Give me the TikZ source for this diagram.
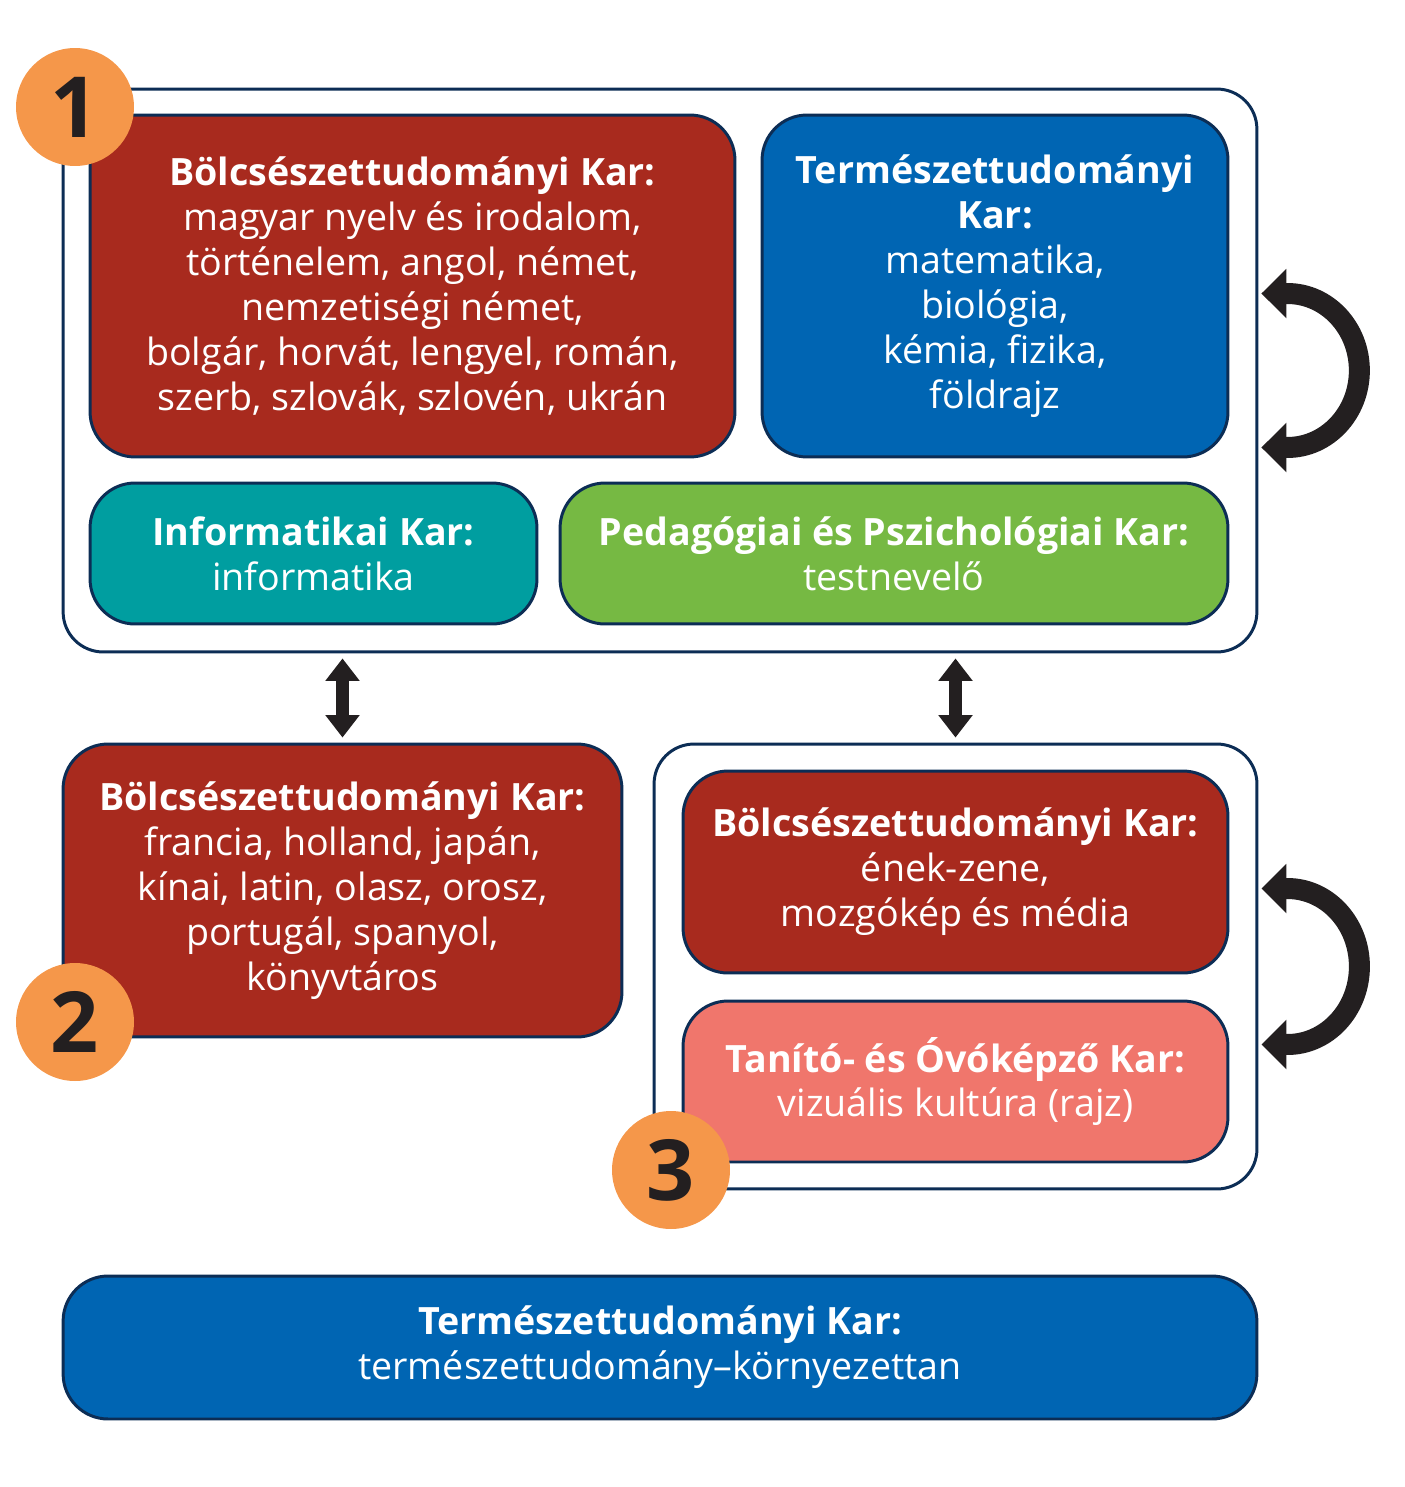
\documentclass[tikz,border=0pt]{standalone}
\usepackage{fontspec}
\setmainfont{Open Sans}
\usetikzlibrary{arrows.meta}
\definecolor{karred}{RGB}{168,42,30}
\definecolor{karblue}{RGB}{0,101,179}
\definecolor{karteal}{RGB}{0,158,160}
\definecolor{kargreen}{RGB}{118,185,67}
\definecolor{karsalmon}{RGB}{240,118,108}
\definecolor{numorange}{RGB}{245,151,74}
\definecolor{navy}{RGB}{12,45,85}
\definecolor{arrowblack}{RGB}{35,31,32}
\begin{document}
\begin{tikzpicture}[x=0.02cm, y=-0.02cm,
  kar/.style={draw=navy, line width=1.7pt, rounded corners=0.9cm, text=white, align=center, inner sep=0pt, font=\fontsize{21.4}{25.6}\selectfont},
  frame/.style={draw=navy, line width=1.7pt, rounded corners=0.8cm, inner sep=0pt},
  num/.style={circle, fill=numorange, minimum size=2.36cm, inner sep=0pt, text=arrowblack, font=\fontsize{48}{48}\selectfont\bfseries},
  updown/.style={arrowblack, line width=0.27cm, shorten <=0.1cm, shorten >=0.1cm, {Triangle[width=0.66cm,length=0.45cm]}-{Triangle[width=0.66cm,length=0.45cm]}},
  loopback/.style={arrowblack, line width=0.42cm, {Triangle[width=0.96cm,length=0.5cm]}-{Triangle[width=0.96cm,length=0.5cm]}}]
\useasboundingbox (0,0) rectangle (1405,1487);
% group 1
\node[frame, minimum width=23.88cm, minimum height=11.26cm] (group1) at (660,370.5){};
\node[kar, fill=karred, minimum width=12.9cm, minimum height=6.84cm] (btk1) at (412.5,286){\textbf{Bölcsészettudományi Kar:}\\magyar nyelv és irodalom,\\történelem, angol, német,\\nemzetiségi német,\\bolgár, horvát, lengyel, román,\\szerb, szlovák, szlovén, ukrán};
\node[kar, fill=karblue, minimum width=9.32cm, minimum height=6.84cm] (ttk1) at (995,286){\textbf{Természettudományi}\\\textbf{Kar:}\\matematika,\\biológia,\\kémia, fizika,\\földrajz};
\node[kar, fill=karteal, minimum width=8.94cm, minimum height=2.82cm] (ik) at (313.5,553.5){\textbf{Informatikai Kar:}\\informatika};
\node[kar, fill=kargreen, minimum width=13.36cm, minimum height=2.82cm] (ppk) at (894,553.5){\textbf{Pedagógiai és Pszichológiai Kar:}\\testnevelő};
\node[num] (n1) at (75,107){1};
% group 2
\node[kar, fill=karred, minimum width=11.18cm, minimum height=5.86cm] (btk2) at (342.5,890.5){\textbf{Bölcsészettudományi Kar:}\\francia, holland, japán,\\kínai, latin, olasz, orosz,\\portugál, spanyol,\\könyvtáros};
\node[num] (n2) at (75,1022){2};
% group 3
\node[frame, minimum width=12.06cm, minimum height=8.9cm] (group3) at (955.5,966.5){};
\node[kar, fill=karred, minimum width=10.9cm, minimum height=4.04cm] (btk3) at (955.5,872){\textbf{Bölcsészettudományi Kar:}\\ének-zene,\\mozgókép és média};
\node[kar, fill=karsalmon, minimum width=10.9cm, minimum height=3.22cm] (tok) at (955.5,1081.5){\textbf{Tanító- és Óvóképző Kar:}\\vizuális kultúra (rajz)};
\node[num] (n3) at (671,1170){3};
% bottom
\node[kar, fill=karblue, minimum width=23.88cm, minimum height=2.86cm] (ttk2) at (660,1347.5){\textbf{Természettudományi Kar:}\\természettudomány–környezettan};
% arrows
\draw[updown] (btk2.north |- group1.south) -- (btk2.north);
\draw[updown] (group3.north |- group1.south) -- (group3.north);
\coordinate (loop1) at ([xshift=0.06cm]group1.east);
\coordinate (loop3) at ([xshift=0.06cm]group3.east);
\draw[loopback] ([yshift=1.54cm]loop1) -- ++(0.52cm,0) arc[start angle=90, end angle=-90, x radius=1.44cm, y radius=1.54cm] -- ([yshift=-1.54cm]loop1);
\draw[loopback] ([yshift=1.56cm]loop3) -- ++(0.52cm,0) arc[start angle=90, end angle=-90, x radius=1.44cm, y radius=1.56cm] -- ([yshift=-1.56cm]loop3);
\end{tikzpicture}
\end{document}
